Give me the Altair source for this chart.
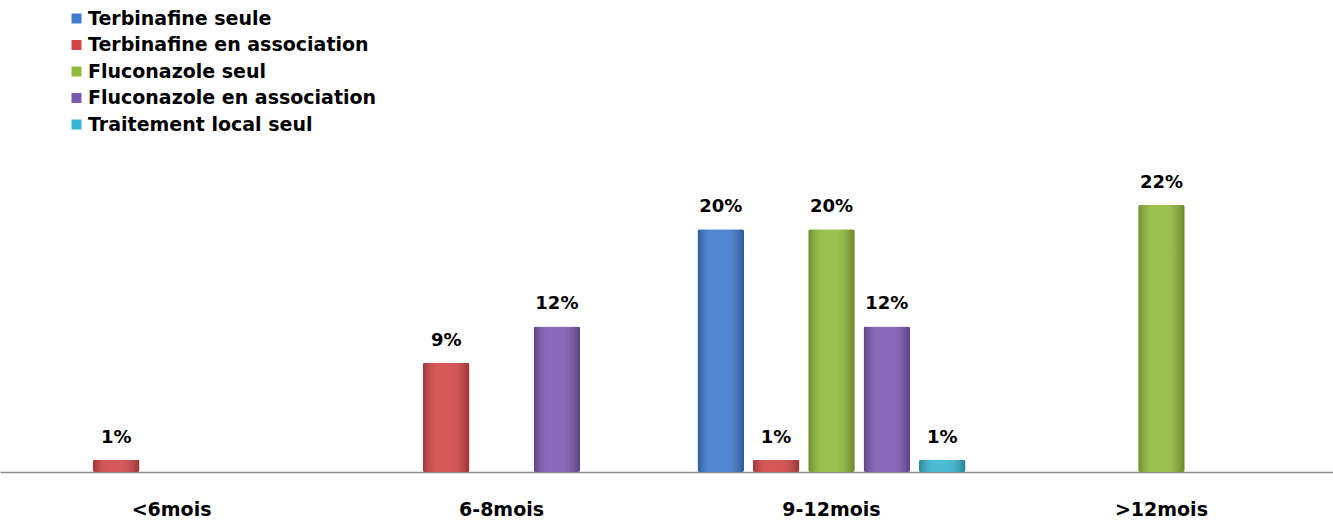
import altair as alt
import pandas as pd

# Durée du traitement par tranche de durée, en %
groups = ["<6mois", "6-8mois", "9-12mois", ">12mois"]
series = [
    "Terbinafine seule",
    "Terbinafine en association",
    "Fluconazole seul",
    "Fluconazole en association",
    "Traitement local seul",
]
colors = ["#3D7BCF", "#D24545", "#8FBA3A", "#7D58B3", "#36B5D0"]

terbinafine_seule = [0, 0, 20, 0]
terbinafine_assoc = [1, 9, 1, 0]
fluconazole_seul = [0, 0, 20, 22]
fluconazole_assoc = [0, 12, 12, 0]
traitement_local = [0, 0, 1, 0]

values = [terbinafine_seule, terbinafine_assoc, fluconazole_seul,
          fluconazole_assoc, traitement_local]

rows = []
for name, vals in zip(series, values):
    for g, v in zip(groups, vals):
        if v > 0:
            rows.append({"groupe": g, "serie": name, "valeur": v,
                         "label": f"{v}%"})
df = pd.DataFrame(rows)

FONT = "DejaVu Sans"

x_enc = alt.X("groupe:N", sort=groups,
              scale=alt.Scale(domain=groups, paddingInner=0, paddingOuter=0.02),
              axis=alt.Axis(title=None, labelAngle=0, ticks=False,
                            labelFont=FONT, labelFontSize=19,
                            labelFontWeight="bold", labelColor="#000000",
                            labelPadding=28, domainColor="#8c8c8c",
                            domainWidth=1.5))
xoff_enc = alt.XOffset("serie:N", sort=series,
                       scale=alt.Scale(domain=series, paddingInner=0.16,
                                       paddingOuter=0.56))
y_enc = alt.Y("valeur:Q", scale=alt.Scale(domain=[0, 38.9]), axis=None)

base = alt.Chart(df).encode(x=x_enc, xOffset=xoff_enc, y=y_enc)

bars = base.mark_bar(cornerRadius=2).encode(
    color=alt.Color("serie:N", sort=series,
                    scale=alt.Scale(domain=series, range=colors),
                    legend=alt.Legend(
                        title=None, orient="none", legendX=67, legendY=9,
                        symbolType="square", symbolSize=100,
                        symbolStrokeWidth=0, labelFont=FONT,
                        labelFontSize=19, labelFontWeight="bold",
                        labelColor="#000000", rowPadding=6.5,
                        labelOffset=2, labelLimit=400)),
)

# shading to give each bar a rounded, cylinder-like look
shade = base.mark_bar(
    cornerRadius=2,
    color=alt.Gradient(
        gradient="linear", x1=0, x2=1, y1=0, y2=0,
        stops=[
            alt.GradientStop(color="rgba(0,0,0,0.25)", offset=0),
            alt.GradientStop(color="rgba(255,255,255,0.10)", offset=0.3),
            alt.GradientStop(color="rgba(255,255,255,0.10)", offset=0.6),
            alt.GradientStop(color="rgba(0,0,0,0.28)", offset=1),
        ],
    ),
)

labels = base.mark_text(dy=-22, font=FONT, fontSize=18, fontWeight="bold",
                        color="#000000").encode(text="label:N")

chart = (
    alt.layer(bars, shade, labels)
    .properties(width=1333, height=472,
                view=alt.ViewBackground(strokeOpacity=0, strokeWidth=0),
                autosize=alt.AutoSizeParams(type="none"),
                padding={"left": 0, "top": 0, "right": 0, "bottom": 52})
    .configure_view(strokeOpacity=0, strokeWidth=0)
    .configure(background="#ffffff")
)

chart.save("out.html", embed_options={"renderer": "svg", "actions": False})
